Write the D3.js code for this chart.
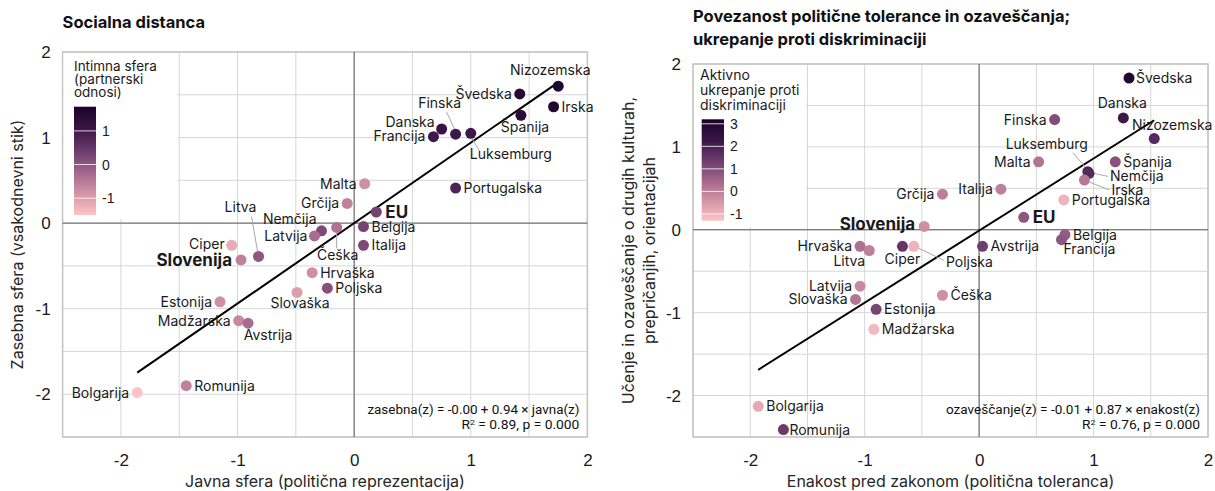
<!DOCTYPE html>
<html><head><meta charset="utf-8">
<script src="https://cdn.jsdelivr.net/npm/d3@7"></script>
<style>body{margin:0;background:#fff}svg{display:block}</style>
</head><body><svg id="c" width="1215" height="491"></svg>
<script>
// ---------- DATA ----------
const axisTicks = [-2, -1, 0, 1, 2];

const socCountries = ["Nizozemska","Švedska","Irska","Španija","Danska","Francija","Finska","Luksemburg","Portugalska","Malta","Grčija","EU","Belgija","Italija","Nemčija","Latvija","Češka","Litva","Ciper","Slovenija","Hrvaška","Poljska","Slovaška","Estonija","Madžarska","Avstrija","Romunija","Bolgarija"];
const socJavna   = [1.75,1.42,1.71,1.43,0.75,0.68,0.87,1.00,0.87,0.09,-0.06,0.19,0.08,0.08,-0.28,-0.34,-0.15,-0.82,-1.05,-0.97,-0.36,-0.23,-0.49,-1.15,-0.99,-0.91,-1.44,-1.86];
const socZasebna = [1.60,1.51,1.36,1.26,1.10,1.01,1.04,1.05,0.41,0.46,0.23,0.13,-0.04,-0.26,-0.09,-0.15,-0.05,-0.39,-0.26,-0.43,-0.58,-0.76,-0.81,-0.92,-1.14,-1.17,-1.90,-1.98];
const socIntimna = [1.6,1.5,1.5,1.4,1.1,1.0,1.0,1.0,0.8,-0.8,-0.6,0.3,0.3,0.2,0.2,-0.3,-0.4,0.0,-1.2,-0.6,-0.8,0.1,-1.0,-0.8,-0.7,-0.3,-0.6,-1.5];
const socLegendTicks = [1, 0, -1];
const socFit = {intercept: -0.00, slope: 0.94};

const tolCountries = ["Švedska","Danska","Nizozemska","Finska","Luksemburg","Nemčija","Irska","Malta","Španija","Portugalska","Italija","Grčija","EU","Slovenija","Belgija","Francija","Avstrija","Hrvaška","Litva","Ciper","Poljska","Latvija","Slovaška","Estonija","Madžarska","Češka","Bolgarija","Romunija"];
const tolEnakost      = [1.31,1.26,1.53,0.66,0.95,0.96,0.92,0.52,1.19,0.74,0.19,-0.32,0.39,-0.48,0.75,0.72,0.03,-1.04,-0.96,-0.67,-0.57,-1.04,-1.08,-0.90,-0.92,-0.32,-1.93,-1.71];
const tolOzavescanje  = [1.83,1.35,1.10,1.33,0.70,0.68,0.60,0.82,0.82,0.36,0.49,0.43,0.15,0.04,-0.06,-0.12,-0.20,-0.20,-0.25,-0.20,-0.20,-0.68,-0.84,-0.96,-1.20,-0.79,-2.13,-2.41];
const tolUkrepanje    = [3.0,2.2,1.8,1.0,1.9,1.8,0.1,0.2,0.9,-1.0,0.0,0.0,0.8,-0.3,0.7,0.8,1.3,0.3,0.0,1.5,-1.0,-0.2,0.2,1.2,-1.1,-0.3,-0.8,1.4];
const tolLegendTicks = [3, 2, 1, 0, -1];
const tolFit = {intercept: -0.01, slope: 0.87};

// ---------- LAYOUT (label placement, not data) ----------
const socLabels = {
  "Nizozemska":["middle",-8,-11],"Švedska":["end",-8,5],"Irska":["start",8,5],"Španija":["middle",4,17],
  "Danska":["end",-7,-2],"Francija":["end",-8,4],"Finska":["middle",-16,-26,[-1,-5],[-9,-22]],
  "Luksemburg":["start",-1,26,[1,5],[9,18]],"Portugalska":["start",8,5],"Malta":["end",-8,5],"Grčija":["end",-8,5],
  "EU":["start",9,6],"Belgija":["start",8,5],"Italija":["start",8,5],"Nemčija":["end",-5,-7],"Latvija":["end",-7,5],
  "Češka":["middle",1,33,[0,5],[0,21]],"Litva":["middle",-18,-44,[-1,-5],[-7,-40]],"Ciper":["end",-7,4],
  "Slovenija":["end",-9,6],"Hrvaška":["start",8,5],"Poljska":["start",8,5],"Slovaška":["middle",3,16],
  "Estonija":["end",-8,5],"Madžarska":["end",-8,5],"Avstrija":["middle",20,17],"Romunija":["start",8,5],"Bolgarija":["end",-8,5]
};
const tolLabels = {
  "Švedska":["start",7,5],"Danska":["middle",-1,-10],"Nizozemska":["middle",18,-9],"Finska":["end",-8,5],
  "Luksemburg":["end",0,-23,[-2,-4],[-15,-19]],"Nemčija":["start",21,8,[5,0],[19,3]],"Irska":["start",27,15,[5,2],[25,10]],
  "Malta":["end",-8,5],"Španija":["start",8,5],"Portugalska":["start",8,5],"Italija":["end",-8,5],"Grčija":["end",-8,5],
  "EU":["start",9,6],"Slovenija":["end",-9,4],"Belgija":["start",8,5],"Francija":["start",2,14],"Avstrija":["start",8,5],
  "Hrvaška":["end",-8,5],"Litva":["end",-4,15],"Ciper":["middle",0,18],"Poljska":["start",32,21,[5,2],[30,14]],
  "Latvija":["end",-8,5],"Slovaška":["end",-8,5],"Estonija":["start",8,5],"Madžarska":["start",8,5],"Češka":["start",8,5],
  "Bolgarija":["start",8,5],"Romunija":["start",6,5]
};

const palette = ["#fdc3c6","#d494a6","#a1668a","#6a3a6c","#3a1446","#1c0029"];
const svg = d3.select("#c");
const labelFont = "Inter, 'Open Sans', sans-serif";
const tickFont = "'Liberation Sans', Arial, sans-serif";

function panel(o) {
  const x = d3.scaleLinear().domain([-2.5, 2]).range([o.x0, o.x1]);
  const y = d3.scaleLinear().domain([-2.5, 2]).range([o.y1, o.y0]);
  const color = d3.scaleSequential(d3.piecewise(d3.interpolateLab, palette)).domain(o.cdomain);
  const g = svg.append("g");
  const grid = d3.range(-2.5, 2.01, 0.5);
  g.selectAll(".vg").data(grid).join("line")
    .attr("x1", d => x(d)).attr("x2", d => x(d)).attr("y1", o.y0).attr("y2", o.y1)
    .attr("stroke", "#d6d6d6").attr("stroke-width", 1);
  g.selectAll(".hg").data(grid).join("line")
    .attr("y1", d => y(d)).attr("y2", d => y(d)).attr("x1", o.x0).attr("x2", o.x1)
    .attr("stroke", "#d6d6d6").attr("stroke-width", 1);
  g.append("rect").attr("x", o.x0).attr("y", o.y0).attr("width", o.x1 - o.x0).attr("height", o.y1 - o.y0)
    .attr("fill", "none").attr("stroke", "#c4c4c4").attr("stroke-width", 1.5);
  g.append("line").attr("x1", x(0)).attr("x2", x(0)).attr("y1", o.y0).attr("y2", o.y1).attr("stroke", "#5a5a5a");
  g.append("line").attr("y1", y(0)).attr("y2", y(0)).attr("x1", o.x0).attr("x2", o.x1).attr("stroke", "#5a5a5a");

  // legend box
  const lb = o.legend;
  g.append("rect").attr("x", o.x0 + 1).attr("y", o.y0 + 1).attr("width", lb.w).attr("height", lb.h).attr("fill", "#fff");
  lb.title.forEach((t, i) => g.append("text").attr("x", lb.tx).attr("y", lb.ty + i * lb.lh)
    .attr("font-family", labelFont).attr("font-size", lb.fs).attr("fill", "#1a1a1a").text(t));
  const ly = d3.scaleLinear().domain(o.cdomain).range([lb.by1, lb.by0]);
  const gid = "grad" + o.id;
  const grad = svg.append("defs").append("linearGradient").attr("id", gid)
    .attr("x1", 0).attr("x2", 0).attr("y1", 1).attr("y2", 0);
  d3.range(0, 1.001, 0.05).forEach(t => grad.append("stop").attr("offset", t)
    .attr("stop-color", color(o.cdomain[0] + t * (o.cdomain[1] - o.cdomain[0]))));
  g.append("rect").attr("x", lb.bx).attr("y", lb.by0).attr("width", lb.bw).attr("height", lb.by1 - lb.by0).attr("fill", `url(#${gid})`);
  g.selectAll(".lt").data(o.lticks).join("line").attr("x1", lb.bx).attr("x2", lb.bx + lb.bw)
    .attr("y1", d => ly(d)).attr("y2", d => ly(d)).attr("stroke", "#fff").attr("stroke-opacity", 0.8).attr("stroke-width", 1);
  g.selectAll(".ltx").data(o.lticks).join("text").attr("x", lb.bx + lb.bw + 6).attr("y", d => ly(d) + 5)
    .attr("font-family", tickFont).attr("font-size", 14).attr("fill", "#1a1a1a").text(d => String(d));

  // axes
  const fmt = d => String(d);
  const xa = g.append("g").attr("transform", `translate(0,${o.y1 + 14})`)
    .call(d3.axisBottom(x).tickValues(axisTicks).tickSize(0).tickFormat(fmt));
  xa.select(".domain").remove();
  xa.selectAll("text").attr("font-family", tickFont).attr("font-size", 17).attr("fill", "#1a1a1a").attr("dy", "0.71em");
  const ya = g.append("g").attr("transform", `translate(${o.x0 - 9},0)`)
    .call(d3.axisLeft(y).tickValues(axisTicks).tickSize(0).tickFormat(fmt));
  ya.select(".domain").remove();
  ya.selectAll("text").attr("font-family", tickFont).attr("font-size", 17).attr("fill", "#1a1a1a");

  // titles
  o.title.forEach((t, i) => g.append("text").attr("x", o.x0).attr("y", o.titleY + i * 23)
    .attr("font-family", labelFont).attr("font-weight", 700).attr("font-size", 16.5).attr("fill", "#111").text(t));
  g.append("text").attr("x", (o.x0 + o.x1) / 2).attr("y", 487).attr("text-anchor", "middle")
    .attr("font-family", labelFont).attr("font-size", 16).attr("fill", "#262626").text(o.xTitle);
  o.yTitle.forEach((t, i) => g.append("text")
    .attr("transform", `translate(${o.yTitleX + i * 21},${(o.y0 + o.y1) / 2}) rotate(-90)`)
    .attr("text-anchor", "middle").attr("font-family", labelFont).attr("font-size", 16).attr("fill", "#262626").text(t));

  // regression line
  const xs = d3.extent(o.xv);
  g.append("line").attr("x1", x(xs[0])).attr("y1", y(o.fit.intercept + o.fit.slope * xs[0]))
    .attr("x2", x(xs[1])).attr("y2", y(o.fit.intercept + o.fit.slope * xs[1]))
    .attr("stroke", "#000").attr("stroke-width", 2);

  // equation
  o.eq.forEach((t, i) => g.append("text").attr("x", o.x1 - 8).attr("y", o.eqY + i * 15).attr("text-anchor", "end")
    .attr("font-family", "Roboto, sans-serif").attr("font-size", 12.5).attr("fill", "#111")
    .attr("textLength", o.eqLen[i]).attr("lengthAdjust", "spacingAndGlyphs").html(t));

  const pts = o.names.map((n, i) => ({n, x: o.xv[i], y: o.yv[i], c: o.cv[i]}));
  // leaders
  pts.forEach(p => {
    const L = o.labels[p.n];
    if (L && L[3]) {
      g.append("line").attr("x1", x(p.x) + L[3][0]).attr("y1", y(p.y) + L[3][1])
        .attr("x2", x(p.x) + L[4][0]).attr("y2", y(p.y) + L[4][1]).attr("stroke", "#a8a8a8").attr("stroke-width", 1);
    }
  });
  g.selectAll(".dot").data(pts).join("circle").attr("cx", d => x(d.x)).attr("cy", d => y(d.y)).attr("r", 5.5)
    .attr("fill", d => color(d.c));
  pts.forEach(p => {
    const L = o.labels[p.n] || ["start", 8, 5];
    const bold = p.n === "EU" || p.n === "Slovenija";
    g.append("text").attr("x", x(p.x) + L[1]).attr("y", y(p.y) + L[2]).attr("text-anchor", L[0])
      .attr("font-family", bold ? "Inter, Arial, sans-serif" : labelFont).attr("font-weight", bold ? 700 : 400)
      .attr("font-size", bold ? 17 : 14).attr("fill", "#1a1a1a").text(p.n);
  });
}

panel({id: "L", x0: 62.6, x1: 587.4, y0: 52, y1: 437,
  names: socCountries, xv: socJavna, yv: socZasebna, cv: socIntimna, cdomain: [-1.5, 1.72], lticks: socLegendTicks,
  fit: socFit, labels: socLabels,
  title: ["Socialna distanca"], titleY: 28,
  xTitle: "Javna sfera (politična reprezentacija)", yTitle: ["Zasebna sfera (vsakodnevni stik)"], yTitleX: 23,
  eq: ["zasebna(z) = -0.00 + 0.94 × javna(z)", "R<tspan baseline-shift='super' font-size='8'>2</tspan> = 0.89, p = 0.000"],
  eqLen: [212, 118], eqY: 414,
  legend: {w: 114, h: 166, title: ["Intimna sfera", "(partnerski", "odnosi)"], tx: 74, ty: 71, lh: 13, fs: 13.5,
           bx: 74, bw: 22, by0: 106.7, by1: 215}
});
panel({id: "R", x0: 693, x1: 1208, y0: 64, y1: 437,
  names: tolCountries, xv: tolEnakost, yv: tolOzavescanje, cv: tolUkrepanje, cdomain: [-1.3, 3.2], lticks: tolLegendTicks,
  fit: tolFit, labels: tolLabels,
  title: ["Povezanost politične tolerance in ozaveščanja;", "ukrepanje proti diskriminaciji"], titleY: 22,
  xTitle: "Enakost pred zakonom (politična toleranca)",
  yTitle: ["Učenje in ozaveščanje o drugih kulturah,", "prepričanjih, orientacijah"], yTitleX: 634,
  eq: ["ozaveščanje(z) = -0.01 + 0.87 × enakost(z)", "R<tspan baseline-shift='super' font-size='8'>2</tspan> = 0.76, p = 0.000"],
  eqLen: [254, 118], eqY: 414,
  legend: {w: 112, h: 162, title: ["Aktivno", "ukrepanje proti", "diskriminaciji"], tx: 700, ty: 80, lh: 15, fs: 14,
           bx: 701.7, bw: 22.3, by0: 119.3, by1: 220.7}
});
</script></body></html>
